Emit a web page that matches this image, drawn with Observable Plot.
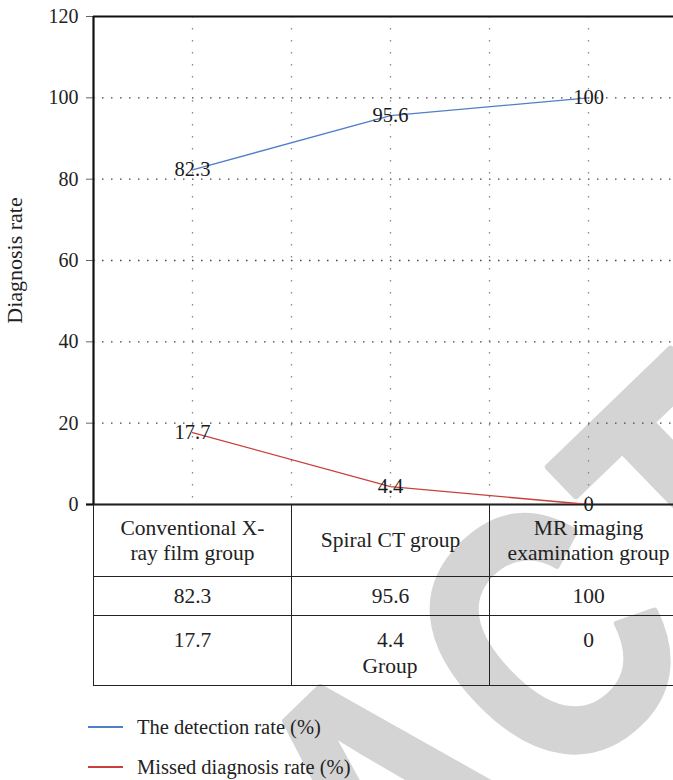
<!DOCTYPE html>
<html>
<head>
<meta charset="utf-8">
<script src="https://cdn.jsdelivr.net/npm/d3@7"></script>
<script src="https://cdn.jsdelivr.net/npm/@observablehq/plot@0.6"></script>
<style>
  html, body { margin: 0; padding: 0; background: #fff; overflow: hidden; }
  body { width: 673px; height: 780px; position: relative; font-family: "Liberation Serif", "Times New Roman", serif; color: #222; }
  #stamp { position: absolute; left: 0; top: 0; z-index: 0; }
  #chart { position: absolute; left: 0; top: 0; width: 687px; z-index: 1; }
  #chart svg { max-width: none; background: transparent; }
  table.data { position: absolute; border-collapse: collapse; table-layout: fixed; font-size: 21.5px; line-height: 25px; color: #222; }
  table.data td { border: 1.3px solid #222; text-align: center; vertical-align: middle; padding: 0; white-space: pre-line; }
  table.data tr:first-child td { border-top: none; }
  table.data tr.last td { vertical-align: top; padding-top: 12px; }
  .xlabel { position: absolute; font-size: 21.5px; line-height: 25px; transform: translateX(-50%); white-space: nowrap; }
  .legend { position: absolute; left: 0; font-size: 20.5px; line-height: 26px; color: #222; }
  .legend .item { position: absolute; left: 88px; display: flex; align-items: center; white-space: nowrap; }
  .legend .sw { display: inline-block; width: 35px; height: 1.4px; margin-right: 14px; }
</style>
</head>
<body>
<svg id="stamp" width="673" height="780">
  <text id="stampText" font-family="Liberation Sans, Arial, sans-serif" font-weight="bold" font-size="354" letter-spacing="14" fill="#d4d4d4" stroke="#d4d4d4" stroke-width="7" stroke-linejoin="round">RETRACTED</text>
</svg>
<div id="chart"></div>
<script>
// Groups compared, and the two rates (%) for each group
const groups = ["Conventional X-\nray film group", "Spiral CT group", "MR imaging\nexamination group"];
const detection = [82.3, 95.6, 100];
const missed = [17.7, 4.4, 0];
const yTicks = [0, 20, 40, 60, 80, 100, 120];
const seriesNames = ["The detection rate (%)", "Missed diagnosis rate (%)"];
const seriesColors = ["#4f7fc8", "#c9403a"];

const rows = groups.map((g, i) => ({i, group: g, detection: detection[i], missed: missed[i]}));
const n = groups.length;
const serif = "'Liberation Serif', 'Times New Roman', serif";

const plot = Plot.plot({
  width: 687,
  height: 505,
  marginTop: 16,
  marginBottom: 1,
  marginLeft: 93,
  marginRight: 0,
  style: {fontFamily: serif, fontSize: "20px", background: "transparent", maxWidth: "none", overflow: "visible"},
  x: {domain: [-0.5, n - 0.5], axis: null},
  y: {domain: [0, 120]},
  marks: [
    // dotted grid: horizontal at each inner tick, vertical at group centres and column edges
    Plot.ruleY(yTicks.slice(1, -1), {stroke: "#444", strokeWidth: 1.3, strokeDasharray: "1.5 7.5"}),
    Plot.ruleX(d3.range(0, n - 0.49, 0.5), {stroke: "#888", strokeWidth: 1.3, strokeDasharray: "1.5 10.5"}),
    Plot.axisY({
      ticks: yTicks, tickSize: 7, tickPadding: 8, stroke: "#666", fill: "#222", fontFamily: serif,
      label: null
    }),
    // the zero tick continues the heavy baseline
    Plot.axisY({ticks: [0], tickSize: 7, stroke: "#111", strokeWidth: 2.2, tickFormat: () => "", label: null}),
    Plot.axisY({
      ticks: [], tickSize: 0, fill: "#222", fontFamily: serif, fontSize: 22,
      label: "Diagnosis rate", labelAnchor: "center", labelArrow: "none", labelOffset: 87
    }),
    Plot.ruleY([0, 120], {stroke: "#111", strokeWidth: 2.2}),
    Plot.ruleX([-0.5], {stroke: "#111", strokeWidth: 2.2}),
    Plot.line(rows, {x: "i", y: "detection", stroke: seriesColors[0], strokeWidth: 1.3}),
    Plot.line(rows, {x: "i", y: "missed", stroke: seriesColors[1], strokeWidth: 1.3}),
    Plot.text(rows, {x: "i", y: "detection", text: d => String(d.detection), fill: "#1a1a1a", fontSize: 20.5, fontFamily: serif, lineAnchor: "middle"}),
    Plot.text(rows, {x: "i", y: "missed", text: d => String(d.missed), fill: "#1a1a1a", fontSize: 20.5, fontFamily: serif, lineAnchor: "middle"})
  ]
});

const chart = document.getElementById("chart");
chart.appendChild(plot);

// data table under the plot, with columns taken from the x scale
const xs = plot.scale("x");
const ys = plot.scale("y");
const top0 = ys.apply(0);
const left0 = xs.apply(-0.5);
const colW = groups.map((g, i) => xs.apply(i + 0.5) - xs.apply(i - 0.5));
const rowH = [72, 39, 70];

const table = document.createElement("table");
table.className = "data";
table.style.top = top0 + "px";
table.style.left = left0 + "px";
table.style.width = d3.sum(colW) + "px";
const cg = document.createElement("colgroup");
colW.forEach(w => { const c = document.createElement("col"); c.style.width = w + "px"; cg.appendChild(c); });
table.appendChild(cg);
[groups, detection.map(String), missed.map(String)].forEach((cells, r) => {
  const tr = document.createElement("tr");
  tr.style.height = rowH[r] + "px";
  if (r === 2) tr.className = "last";
  cells.forEach(v => { const td = document.createElement("td"); td.textContent = v; tr.appendChild(td); });
  table.appendChild(tr);
});
chart.appendChild(table);

// x-axis title
const xl = document.createElement("div");
xl.className = "xlabel";
xl.textContent = "Group";
xl.style.left = xs.apply((n - 1) / 2) + "px";
xl.style.top = (top0 + d3.sum(rowH) - 31) + "px";
chart.appendChild(xl);

// legend
const legend = document.createElement("div");
legend.className = "legend";
legend.style.top = "714px";
seriesNames.forEach((name, k) => {
  const item = document.createElement("div");
  item.className = "item";
  item.style.top = (k * 40) + "px";
  const sw = document.createElement("span");
  sw.className = "sw";
  sw.style.background = seriesColors[k];
  const t = document.createElement("span");
  t.textContent = name;
  item.appendChild(sw);
  item.appendChild(t);
  legend.appendChild(item);
});
chart.appendChild(legend);

// diagonal status stamp behind the figure: anchor its "C" on a fixed point
const stamp = document.getElementById("stampText");
const cBox = stamp.getExtentOfChar(5);
const cx = cBox.x + cBox.width / 2, cy = cBox.y + cBox.height / 2 + 0.06 * 354;
stamp.setAttribute("transform", `translate(565,649) rotate(-44) scale(0.82,1) translate(${-cx},${-cy})`);
</script>
</body>
</html>
